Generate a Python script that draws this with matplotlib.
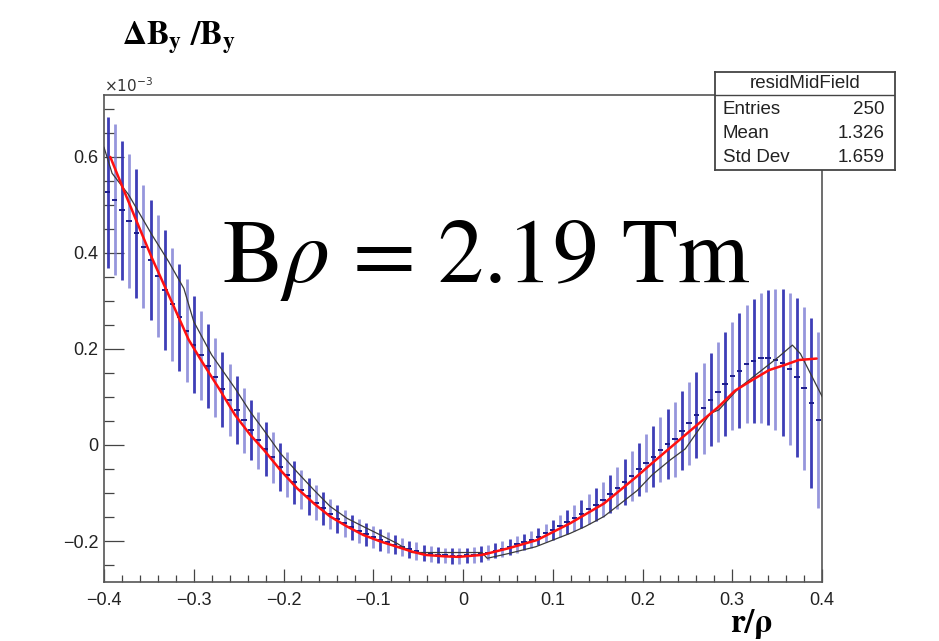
import numpy as np
import matplotlib
matplotlib.use("Agg")
import matplotlib.pyplot as plt
from matplotlib.ticker import MultipleLocator, FuncFormatter
from matplotlib.lines import Line2D

plt.rcParams['mathtext.fontset'] = 'stix'
plt.rcParams['font.family'] = ['Liberation Sans', 'DejaVu Sans']

# ---- data (values in units of 1e-3) ----
n_bins = 100
x_min, x_max = -0.4, 0.4

hist_values = [
    0.526, 0.511, 0.489, 0.466, 0.441, 0.413, 0.386, 0.352, 0.322, 0.293,
    0.266, 0.238, 0.209, 0.187, 0.164, 0.141, 0.116, 0.094, 0.073, 0.051,
    0.031, 0.010, -0.008, -0.026, -0.045, -0.062, -0.078, -0.093, -0.107, -0.120,
    -0.132, -0.144, -0.154, -0.163, -0.171, -0.179, -0.186, -0.192, -0.198, -0.203,
    -0.208, -0.212, -0.217, -0.221, -0.225, -0.227, -0.229, -0.230, -0.231, -0.231,
    -0.230, -0.229, -0.227, -0.224, -0.220, -0.216, -0.212, -0.207, -0.202, -0.197,
    -0.191, -0.184, -0.177, -0.169, -0.161, -0.152, -0.143, -0.134, -0.124, -0.114,
    -0.102, -0.090, -0.077, -0.064, -0.051, -0.038, -0.024, -0.010, 0.002, 0.012,
    0.030, 0.045, 0.062, 0.076, 0.094, 0.111, 0.127, 0.144, 0.155, 0.168,
    0.175, 0.181, 0.182, 0.178, 0.171, 0.158, 0.141, 0.118, 0.087, 0.052,
]
hist_errors = [
    0.158, 0.157, 0.145, 0.140, 0.134, 0.128, 0.125, 0.128, 0.125, 0.118,
    0.111, 0.107, 0.101, 0.093, 0.087, 0.082, 0.078, 0.075, 0.070, 0.067,
    0.062, 0.059, 0.056, 0.053, 0.050, 0.047, 0.044, 0.041, 0.038, 0.036,
    0.034, 0.032, 0.030, 0.028, 0.026, 0.025, 0.024, 0.023, 0.022, 0.021,
    0.020, 0.019, 0.018, 0.018, 0.017, 0.017, 0.016, 0.016, 0.016, 0.016,
    0.016, 0.016, 0.016, 0.016, 0.016, 0.017, 0.017, 0.017, 0.017, 0.018,
    0.018, 0.019, 0.021, 0.023, 0.025, 0.027, 0.029, 0.031, 0.034, 0.037,
    0.040, 0.044, 0.048, 0.052, 0.056, 0.060, 0.064, 0.068, 0.073, 0.078,
    0.082, 0.087, 0.089, 0.094, 0.097, 0.104, 0.109, 0.113, 0.120, 0.123,
    0.130, 0.135, 0.141, 0.146, 0.153, 0.158, 0.165, 0.170, 0.177, 0.184,
]

fit_x = [-0.393, -0.380, -0.365, -0.3465, -0.328, -0.3056, -0.291, -0.272, -0.254,
         -0.237, -0.222, -0.2036, -0.185, -0.166, -0.148, -0.129, -0.111, -0.092,
         -0.0735, -0.057, -0.042, -0.020, -0.005, 0.021, 0.051, 0.0825, 0.1195,
         0.157, 0.194, 0.2106, 0.2477, 0.285, 0.303, 0.322, 0.341, 0.359, 0.374, 0.394]
fit_y = [0.600, 0.540, 0.472, 0.389, 0.3125, 0.219, 0.174, 0.118, 0.0625,
         0.021, -0.010, -0.052, -0.090, -0.122, -0.149, -0.170, -0.1875, -0.201,
         -0.212, -0.222, -0.229, -0.232, -0.233, -0.229, -0.215, -0.198, -0.163,
         -0.122, -0.065, -0.038, 0.021, 0.080, 0.113, 0.135, 0.156, 0.167, 0.177, 0.180]

graph_x = [-0.400, -0.391, -0.3725, -0.3465, -0.328, -0.311, -0.300, -0.280, -0.254,
           -0.237, -0.222, -0.2036, -0.185, -0.166, -0.148, -0.129, -0.111, -0.092,
           -0.0735, -0.057, 0.021, 0.027, 0.051, 0.081, 0.1195, 0.136, 0.157, 0.194,
           0.2106, 0.231, 0.2477, 0.2756, 0.285, 0.307, 0.333, 0.352, 0.367, 0.376, 0.402]
graph_y = [0.620, 0.566, 0.521, 0.4375, 0.382, 0.326, 0.257, 0.1875, 0.118,
           0.069, 0.031, -0.017, -0.056, -0.094, -0.128, -0.153, -0.170, -0.1875,
           -0.205, -0.224, -0.224, -0.236, -0.226, -0.212, -0.184, -0.170, -0.149, -0.095,
           -0.0625, -0.031, -0.008, 0.066, 0.073, 0.118, 0.156, 0.184, 0.208, 0.190, 0.094]

stats_title = "residMidField"
stats_labels = ["Entries", "Mean", "Std Dev"]
stats_values = ["250", "1.326", "1.659"]

# ---- figure ----
W, H = 939, 641
fig = plt.figure(figsize=(W / 100, H / 100), dpi=100)
fig.patch.set_facecolor('white')

ax_l, ax_r, ax_t, ax_b = 104, 822, 95, 582
ax = fig.add_axes([ax_l / W, 1 - ax_b / H, (ax_r - ax_l) / W, (ax_b - ax_t) / H])
ax.set_xlim(x_min, x_max)
ax.set_ylim(-0.2854, 0.729)

bw = (x_max - x_min) / n_bins
centers = x_min + bw * (np.arange(n_bins) + 0.5)
vals = np.array(hist_values)
errs = np.array(hist_errors)

dark = (0.20, 0.20, 0.70, 0.95)
light = (0.45, 0.45, 0.82, 0.75)
cols = [dark if i % 2 == 0 else light for i in range(n_bins)]
ax.vlines(centers, vals - errs, vals + errs, colors=cols, lw=2.0, zorder=2)
ax.hlines(vals, centers - 0.003, centers + 0.003, colors='#1c1c8c', lw=1.4, zorder=3)

ax.plot(graph_x, graph_y, color='#3a3a3a', lw=0.9, zorder=4)
ax.plot(fit_x, fit_y, color='#ff1010', lw=1.8, zorder=5, solid_capstyle='round')

for s in ax.spines.values():
    s.set_color('#555555')
    s.set_linewidth(1.2)

ax.xaxis.set_major_locator(MultipleLocator(0.1))
ax.xaxis.set_minor_locator(MultipleLocator(0.02))
ax.yaxis.set_major_locator(MultipleLocator(0.2))
ax.yaxis.set_minor_locator(MultipleLocator(0.05))

def fmt(v, pos):
    if abs(v) < 1e-9:
        return '0'
    s = '%.1f' % v
    return s.replace('-', '\u2212')

ax.xaxis.set_major_formatter(FuncFormatter(fmt))
ax.yaxis.set_major_formatter(FuncFormatter(fmt))

ax.tick_params(which='both', direction='in', top=False, right=False,
               color='#444444', width=0.9, labelcolor='#222222', labelsize=13)
ax.tick_params(axis='x', which='major', length=9.5, pad=7)
ax.tick_params(axis='x', which='minor', length=5)
ax.tick_params(axis='y', which='major', length=14.5, pad=4)
ax.tick_params(axis='y', which='minor', length=7.5)

# exponent label
fig.text(ax_l / W, 1 - 92 / H, r'$\times10^{-3}$', fontsize=11, color='#333333',
         va='baseline', ha='left', math_fontfamily='dejavusans')

# titles
fig.text(122 / W, 1 - 44 / H, r'$\mathbf{\Delta B_{y}\ /B_{y}}$', fontsize=24,
         va='baseline', ha='left', color='black')
fig.text(730 / W, 1 - 632 / H, 'r/\u03c1', family='STIXGeneral', weight='bold',
         fontsize=24, va='baseline', ha='left', color='black')
fig.text(222 / W, 1 - 282 / H, r'B$\rho$ = 2.19 Tm', family='STIXGeneral',
         fontsize=66, va='baseline', ha='left', color='black')

# stats box
bx_l, bx_r, bx_t, bx_b = 715, 895, 72, 170
sax = fig.add_axes([bx_l / W, 1 - bx_b / H, (bx_r - bx_l) / W, (bx_b - bx_t) / H])
sax.set_xlim(0, 1)
sax.set_ylim(0, 1)
sax.set_xticks([])
sax.set_yticks([])
sax.set_facecolor('white')
for s in sax.spines.values():
    s.set_color('#444444')
    s.set_linewidth(1.3)
sep = (bx_b - 94.5) / (bx_b - bx_t)
sax.add_line(Line2D([0, 1], [sep, sep], color='#444444', lw=1.0))
sax.text(0.5, (bx_b - 83) / (bx_b - bx_t), stats_title, ha='center', va='center',
         fontsize=13.5, color='#222222')
row_y = [110, 134, 158]
for lab, val, yy in zip(stats_labels, stats_values, row_y):
    fy = (bx_b - yy) / (bx_b - bx_t)
    sax.text(0.044, fy, lab, ha='left', va='center', fontsize=13.5, color='#222222')
    sax.text(0.94, fy, val, ha='right', va='center', fontsize=13.5, color='#222222')

fig.savefig('out.png', dpi=100, facecolor='white')
